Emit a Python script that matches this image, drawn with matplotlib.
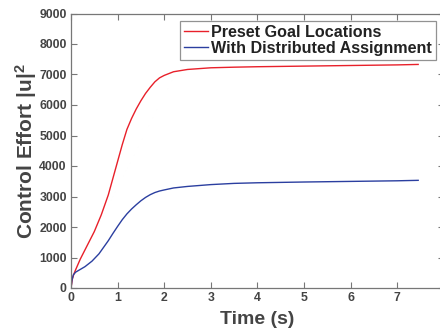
import matplotlib
matplotlib.use("Agg")
import matplotlib.pyplot as plt

plt.rcParams['font.family'] = ['Liberation Sans', 'DejaVu Sans']
plt.rcParams['mathtext.fontset'] = 'custom'
plt.rcParams['mathtext.rm'] = 'Liberation Sans'
plt.rcParams['mathtext.bf'] = 'Liberation Sans:bold'
plt.rcParams['mathtext.it'] = 'Liberation Sans:italic'

t_red = [0, 0.03, 0.06, 0.1, 0.2, 0.35, 0.5, 0.65, 0.8, 0.9, 1.0, 1.1, 1.2, 1.3, 1.4, 1.5, 1.6, 1.7, 1.8, 1.9, 2.0, 2.2, 2.5, 3.0, 3.5, 4, 5, 6, 7, 7.45]
y_red = [0, 300, 450, 600, 950, 1400, 1850, 2400, 3050, 3600, 4150, 4700, 5200, 5560, 5870, 6140, 6380, 6580, 6760, 6890, 6970, 7090, 7165, 7220, 7240, 7255, 7275, 7295, 7315, 7330]

t_blue = [0, 0.02, 0.05, 0.1, 0.2, 0.3, 0.45, 0.6, 0.8, 0.9, 1.0, 1.1, 1.2, 1.3, 1.4, 1.5, 1.6, 1.7, 1.8, 1.9, 2.0, 2.2, 2.5, 3.0, 3.5, 4, 5, 6, 7, 7.45]
y_blue = [0, 250, 430, 520, 610, 700, 880, 1120, 1550, 1790, 2020, 2240, 2430, 2590, 2730, 2860, 2970, 3060, 3130, 3180, 3215, 3280, 3330, 3390, 3430, 3450, 3475, 3495, 3515, 3530]

labels = ["Preset Goal Locations", "With Distributed Assignment"]
xticks = [0, 1, 2, 3, 4, 5, 6, 7, 8]
yticks = [0, 1000, 2000, 3000, 4000, 5000, 6000, 7000, 8000, 9000]

fig = plt.figure(figsize=(4.4, 3.28), dpi=100)
ax = fig.add_axes([71/440, 40/328, (443.8-71)/440, (288-13.5)/328])
ax.plot(t_red, y_red, color='#e8202a', lw=1.0, label=labels[0])
ax.plot(t_blue, y_blue, color='#2b3fa0', lw=1.0, label=labels[1])
ax.set_xlim(0, 8)
ax.set_ylim(0, 9000)
ax.set_xticks(xticks)
ax.set_yticks(yticks)
ax.set_xticklabels([str(v) for v in xticks])
ax.set_yticklabels([str(v) for v in yticks])
ax.tick_params(direction='in', top=True, right=True, length=4, width=0.8,
               color='#777777', labelcolor='#444444', labelsize=8.8, pad=3)
for lab in ax.get_xticklabels() + ax.get_yticklabels():
    lab.set_fontweight('bold')
for s in ax.spines.values():
    s.set_color('#777777')
    s.set_linewidth(0.9)
ax.set_xlabel('Time (s)', fontsize=14, fontweight='bold', color='#444444', labelpad=5)
ax.set_ylabel('Control Effort $\\mathbf{|u|}^{\\mathbf{2}}$', fontsize=15, fontweight='bold', color='#444444', labelpad=0)
leg = ax.legend(loc='upper left', bbox_to_anchor=((180-71)/(443.8-71), 1 - (21-13.5)/(288-13.5)),
                prop={'weight': 'bold', 'size': 11.6}, frameon=True, fancybox=False,
                borderpad=0.25, handlelength=1.5, handletextpad=0.2, labelspacing=0.05, borderaxespad=0)
leg.get_frame().set_edgecolor('#777777')
leg.get_frame().set_linewidth(0.9)
for txt in leg.get_texts():
    txt.set_color('#222222')
fig.savefig('out.png', dpi=100)
